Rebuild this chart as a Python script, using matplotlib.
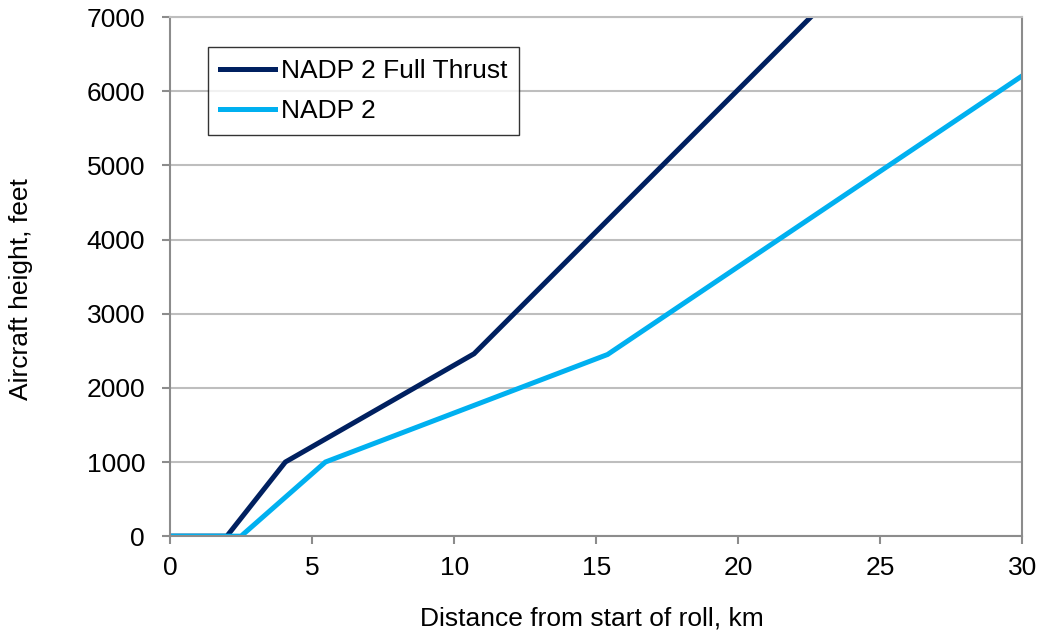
import matplotlib
matplotlib.use('Agg')
import matplotlib.pyplot as plt

plt.rcParams['font.family'] = ['Liberation Sans', 'DejaVu Sans']

# Data
full_x = [0, 2.0, 4.06, 10.7, 22.55]
full_y = [0, 0, 1000, 2460, 7000]
nadp_x = [0, 2.5, 5.47, 15.4, 30]
nadp_y = [0, 0, 1000, 2450, 6210]

x_ticks = [0, 5, 10, 15, 20, 25, 30]
y_ticks = [0, 1000, 2000, 3000, 4000, 5000, 6000, 7000]

fig = plt.figure(figsize=(10.4, 6.36), dpi=100)
ax = fig.add_axes([0.1635, 0.157, 0.8195, 0.816])

ax.plot(full_x, full_y, color='#002060', lw=3.6, label='NADP 2 Full Thrust',
        solid_joinstyle='miter')
ax.plot(nadp_x, nadp_y, color='#00B0F0', lw=3.6, label='NADP 2',
        solid_joinstyle='miter')

ax.set_xlim(0, 30)
ax.set_ylim(0, 7000)
ax.set_xticks(x_ticks)
ax.set_yticks(y_ticks)
ax.yaxis.grid(True, color='#BEBEBE', lw=1.5)
ax.set_axisbelow(True)
for s in ax.spines.values():
    s.set_color('#8C8C8C')
    s.set_linewidth(1.5)
ax.spines['top'].set_color('#BEBEBE')
ax.tick_params(axis='both', colors='#8C8C8C', length=6, width=1.5,
               labelsize=19, labelcolor='black')
ax.tick_params(axis='y', pad=12)
ax.tick_params(axis='x', pad=8)

ax.set_xlabel('Distance from start of roll, km', fontsize=19)
ax.set_ylabel('Aircraft height, feet', fontsize=19)
ax.xaxis.set_label_coords(0.495, -0.135)
ax.yaxis.set_label_coords(-0.161, 0.476)

leg = ax.legend(loc='upper left', bbox_to_anchor=(0.0446, 0.942), fontsize=19,
                borderaxespad=0, frameon=True, fancybox=False,
                handlelength=2.1, handletextpad=0.2, borderpad=0.45,
                labelspacing=0.6)
leg.get_frame().set_edgecolor('black')
leg.get_frame().set_linewidth(1.0)

fig.savefig('out.png', dpi=100)
